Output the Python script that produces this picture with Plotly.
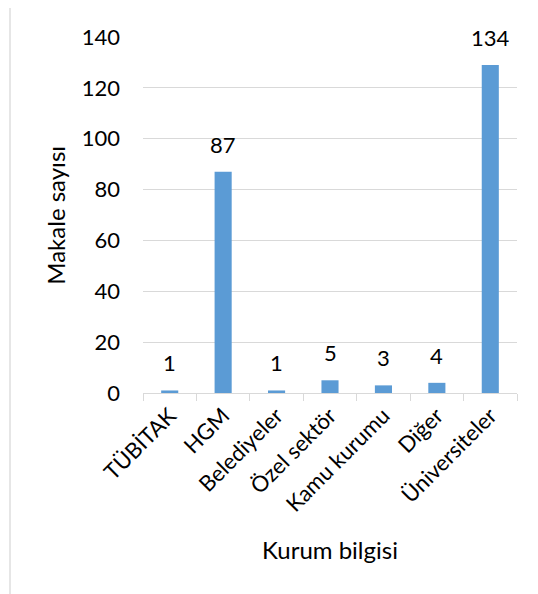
import plotly.graph_objects as go

categories = ["TÜBİTAK", "HGM", "Belediyeler", "Özel sektör", "Kamu kurumu", "Diğer", "Üniversiteler"]
values = [1, 87, 1, 5, 3, 4, 129]
value_labels = ["1", "87", "1", "5", "3", "4", "134"]
y_ticks = [0, 20, 40, 60, 80, 100, 120, 140]

FONT = "Lato"
TICK_FS = 22
LABEL_FS = 22
TITLE_FS = 24

fig = go.Figure()
fig.add_trace(go.Bar(
    x=categories, y=values,
    marker=dict(color="#5b9bd5", line=dict(width=0)),
    hoverinfo="x+y",
))

for c, v, t in zip(categories, values, value_labels):
    fig.add_annotation(x=c, y=v, text=t, showarrow=False, yanchor="bottom",
                       yshift=12, font=dict(family=FONT, size=LABEL_FS, color="#000000"))

fig.add_annotation(xref="paper", yref="paper", x=0.5, y=-0.441, text="Kurum bilgisi",
                   showarrow=False, xanchor="center", yanchor="middle",
                   font=dict(family=FONT, size=TITLE_FS, color="#000000"))
fig.add_annotation(xref="paper", yref="paper", x=-0.236, y=0.5, text="Makale sayısı",
                   showarrow=False, xanchor="center", yanchor="middle", textangle=-90,
                   font=dict(family=FONT, size=TITLE_FS, color="#000000"))

fig.add_shape(type="rect", xref="paper", yref="paper",
              x0=-0.3556, x1=1.15, y0=-0.65, y1=1.0843,
              line=dict(color="#d9d9d9", width=1.3), fillcolor="rgba(0,0,0,0)", layer="below")

fig.update_layout(
    width=530, height=586,
    margin=dict(l=135, r=21, t=29, b=201),
    paper_bgcolor="white", plot_bgcolor="white",
    bargap=0.68,
    showlegend=False,
    font=dict(family=FONT, size=TICK_FS, color="#000000"),
    xaxis=dict(
        type="category", tickangle=-45, tickson="boundaries",
        ticks="outside", ticklen=7, tickcolor="#d9d9d9", tickwidth=1.3,
        showline=True, linecolor="#d9d9d9", linewidth=1.3,
        showgrid=False, tickfont=dict(family=FONT, size=TICK_FS, color="#000000"),
    ),
    yaxis=dict(
        range=[0, 140], tickvals=y_ticks, showline=False, ticks="",
        showgrid=True, gridcolor="#d9d9d9", gridwidth=1.3, zeroline=False,
        ticklabelstandoff=22,
        tickfont=dict(family=FONT, size=TICK_FS, color="#000000"),
    ),
)

fig.write_html("out.html")
